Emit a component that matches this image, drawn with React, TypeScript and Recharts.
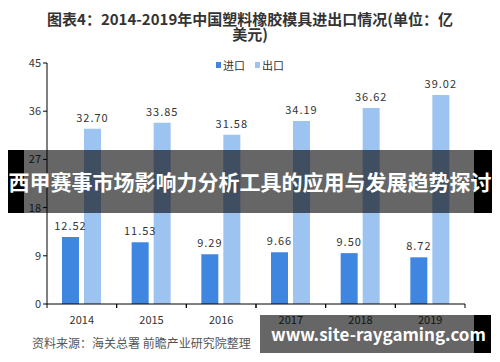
import React from "react";
import { BarChart, Bar, XAxis, YAxis, LabelList } from "recharts";

const years = ["2014", "2015", "2016", "2017", "2018", "2019"];
const importValues = [12.52, 11.53, 9.29, 9.66, 9.5, 8.72];
const exportValues = [32.7, 33.85, 31.58, 34.19, 36.62, 39.02];
const yTicks = [0, 9, 18, 27, 36, 45];
const seriesNames = ["进口", "出口"];

const IMPORT_COLOR = "#3f86e0";
const EXPORT_COLOR = "#9dc3f0";
const FONT = '"Noto Sans CJK SC", "Noto Sans", sans-serif';

const data = years.map((y, i) => ({ year: y, 进口: importValues[i], 出口: exportValues[i] }));

// plot spans x 47..465, six categories
const BAND = (465 - 47) / years.length;

const YearTick = ({ x, y, payload }: any) => (
  <g>
    <line x1={x - BAND / 2} y1={y - 8} x2={x - BAND / 2} y2={y - 4} stroke="#000" />
    <line x1={x + BAND / 2} y1={y - 8} x2={x + BAND / 2} y2={y - 4} stroke="#000" />
    <text x={x} y={y + 12} textAnchor="middle" fontSize={11} fill="#333" fontFamily={FONT}>
      {payload.value}
    </text>
  </g>
);

const fmt = (v: any) => Number(v).toFixed(2);

export default function App() {
  const colors = [IMPORT_COLOR, EXPORT_COLOR];
  return (
    <div style={{ position: "absolute", left: 0, top: 0, width: 500, height: 362, background: "#fff", fontFamily: FONT, overflow: "hidden" }}>
      <div style={{ position: "absolute", left: 0, top: 11, width: 500, textAlign: "center", fontSize: 15, fontWeight: 700, lineHeight: "15px", color: "#333" }}>
        图表4：2014-2019年中国塑料橡胶模具进出口情况(单位：亿
        <br />
        美元)
      </div>

      <div style={{ position: "absolute", left: 0, top: 0 }}>
        <BarChart width={500} height={362} data={data} margin={{ top: 63, right: 35, left: 17, bottom: 28 }} barSize={17} barGap={5}>
          <XAxis dataKey="year" axisLine={{ stroke: "#000" }} tickLine={false} tick={<YearTick />} interval={0} height={30} />
          <YAxis
            domain={[0, 45]}
            ticks={yTicks}
            width={30}
            axisLine={{ stroke: "#000" }}
            tickLine={{ stroke: "#000" }}
            tickSize={4}
            tick={{ fontSize: 11, fill: "#333", fontFamily: FONT }}
            interval={0}
          />
          <Bar dataKey="进口" fill={IMPORT_COLOR} isAnimationActive={false}>
            <LabelList dataKey="进口" position="top" offset={7} formatter={fmt} fontSize={11} fill="#333" fontFamily={FONT} letterSpacing={1} />
          </Bar>
          <Bar dataKey="出口" fill={EXPORT_COLOR} isAnimationActive={false}>
            <LabelList dataKey="出口" position="top" offset={7} formatter={fmt} fontSize={11} fill="#333" fontFamily={FONT} letterSpacing={1} />
          </Bar>
        </BarChart>
      </div>

      {/* legend */}
      <div style={{ position: "absolute", left: 216, top: 57, display: "flex", gap: 10, fontSize: 11, color: "#333" }}>
        {seriesNames.map((name, i) => (
          <span key={name} style={{ display: "flex", alignItems: "center", gap: 2 }}>
            <span style={{ width: 5, height: 6, background: colors[i], display: "inline-block" }} />
            {name}
          </span>
        ))}
      </div>

      <div style={{ position: "absolute", left: 32, top: 334, fontSize: 12, color: "#555" }}>
        资料来源：海关总署 前瞻产业研究院整理
      </div>

      {/* overlay banner across the middle */}
      <div style={{ position: "absolute", left: 8, top: 150, width: 16, height: 63, background: "#000" }} />
      <div style={{ position: "absolute", left: 24, top: 150, width: 450, height: 63, background: "rgba(0,0,0,0.6)" }} />
      <div style={{ position: "absolute", left: 474, top: 150, width: 18, height: 63, background: "#000" }} />
      <div style={{ position: "absolute", left: 8, top: 150, width: 484, height: 63, lineHeight: "63px", textAlign: "center", color: "#fff", fontSize: 21, fontWeight: 700, whiteSpace: "nowrap" }}>
        西甲赛事市场影响力分析工具的应用与发展趋势探讨
      </div>

      {/* bottom url banner */}
      <div style={{ position: "absolute", left: 260, top: 315, width: 214, height: 38, background: "rgba(0,0,0,0.6)" }} />
      <div style={{ position: "absolute", left: 474, top: 315, width: 17, height: 38, background: "#000" }} />
      <div style={{ position: "absolute", left: 260, top: 315, width: 231, height: 38, lineHeight: "38px", paddingLeft: 11, color: "#fff", fontSize: 17, fontWeight: 700, whiteSpace: "nowrap", boxSizing: "border-box" }}>
        www.site-raygaming.com
      </div>
    </div>
  );
}
